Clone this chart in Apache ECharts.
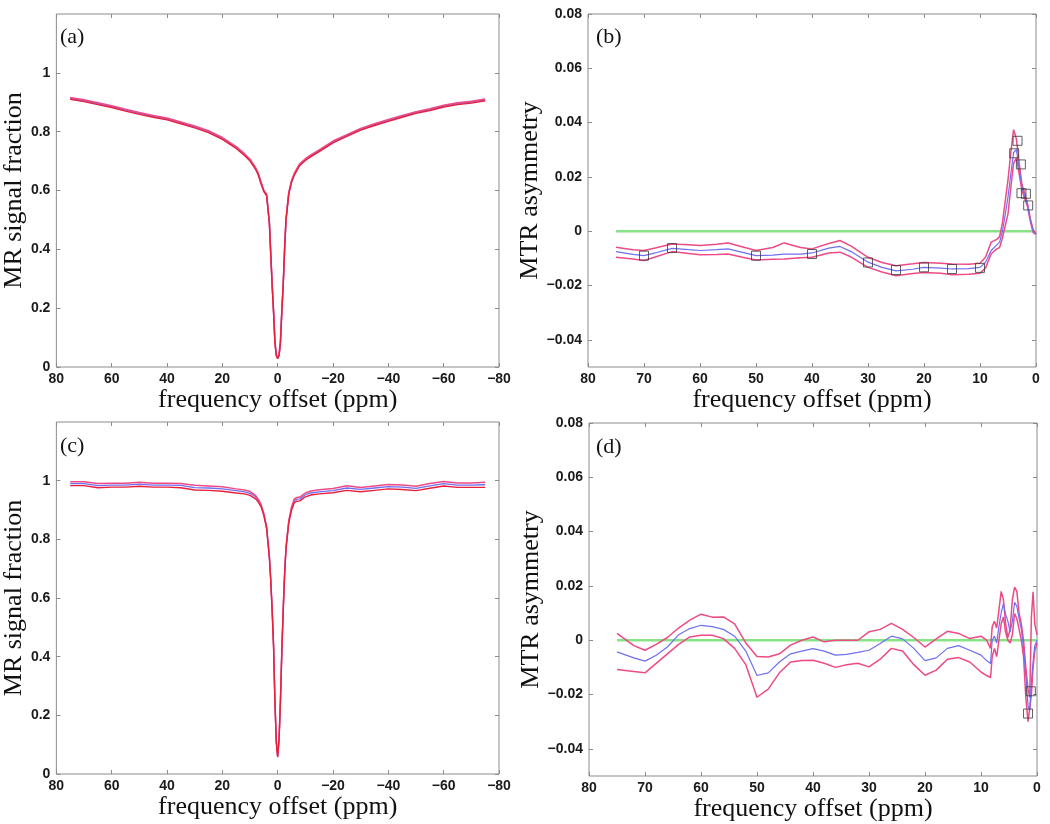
<!DOCTYPE html>
<html>
<head>
<meta charset="utf-8">
<script src="https://cdn.jsdelivr.net/npm/echarts@6/dist/echarts.min.js"></script>
<style>
html,body{margin:0;padding:0;background:#fff;}
#chart{width:1050px;height:824px;}
</style>
</head>
<body>
<div id="chart"></div>
<script>
// ---------- Data ----------
// Panels (a) and (c): Z-spectra, frequency offset (ppm)
var xsZ = [75,70,65,60,55,50,45,40,35,30,25,20,15,12,10,8,7,6,5,4,3,2.5,2,1.5,1,0.5,0,-0.5,-1,-1.5,-2,-2.5,-3,-4,-5,-6,-7,-8,-10,-12,-15,-20,-25,-30,-35,-40,-45,-50,-55,-60,-65,-70,-75];

var aUpper = [0.916,0.908,0.898,0.888,0.876,0.865,0.855,0.846,0.833,0.819,0.803,0.780,0.749,0.725,0.706,0.678,0.658,0.628,0.600,0.588,0.492,0.386,0.282,0.192,0.087,0.042,0.032,0.042,0.087,0.192,0.282,0.402,0.502,0.593,0.633,0.658,0.675,0.691,0.708,0.721,0.738,0.768,0.790,0.811,0.827,0.841,0.855,0.868,0.878,0.890,0.898,0.903,0.911];
var aMean  = [0.913,0.905,0.895,0.885,0.873,0.862,0.852,0.843,0.830,0.816,0.800,0.777,0.746,0.722,0.703,0.675,0.655,0.625,0.598,0.585,0.490,0.384,0.280,0.190,0.085,0.040,0.030,0.040,0.085,0.190,0.280,0.400,0.500,0.590,0.630,0.655,0.672,0.688,0.705,0.718,0.735,0.765,0.787,0.808,0.824,0.838,0.852,0.865,0.875,0.887,0.895,0.900,0.908];
var aLower = [0.910,0.902,0.892,0.882,0.870,0.859,0.849,0.840,0.827,0.813,0.797,0.774,0.743,0.719,0.700,0.672,0.652,0.622,0.596,0.582,0.488,0.382,0.278,0.188,0.083,0.038,0.028,0.038,0.083,0.188,0.278,0.398,0.498,0.587,0.627,0.652,0.669,0.685,0.702,0.715,0.732,0.762,0.784,0.805,0.821,0.835,0.849,0.862,0.872,0.884,0.892,0.897,0.905];

var cUpper = [0.996,0.996,0.990,0.991,0.991,0.995,0.991,0.991,0.990,0.984,0.982,0.979,0.972,0.968,0.963,0.950,0.936,0.918,0.888,0.842,0.742,0.662,0.562,0.442,0.252,0.112,0.062,0.122,0.252,0.422,0.562,0.682,0.773,0.864,0.910,0.938,0.943,0.944,0.958,0.965,0.969,0.973,0.983,0.977,0.982,0.987,0.985,0.981,0.990,0.997,0.992,0.992,0.995];
var cMean  = [0.990,0.990,0.983,0.985,0.985,0.988,0.985,0.985,0.984,0.976,0.975,0.972,0.966,0.962,0.957,0.945,0.932,0.915,0.885,0.840,0.740,0.660,0.560,0.440,0.250,0.110,0.060,0.120,0.250,0.420,0.560,0.680,0.770,0.860,0.905,0.932,0.937,0.938,0.952,0.958,0.962,0.966,0.975,0.970,0.975,0.980,0.978,0.974,0.982,0.990,0.985,0.985,0.986];
var cLower = [0.983,0.983,0.976,0.978,0.978,0.981,0.978,0.978,0.976,0.968,0.967,0.964,0.958,0.955,0.950,0.938,0.927,0.911,0.881,0.837,0.737,0.657,0.557,0.437,0.247,0.107,0.057,0.117,0.247,0.417,0.557,0.677,0.766,0.855,0.899,0.925,0.930,0.931,0.945,0.951,0.955,0.959,0.967,0.962,0.967,0.972,0.970,0.966,0.974,0.982,0.977,0.977,0.977];

// Panel (b): MTR asymmetry
var xsB = [75,72,70,68,65,62,60,57,55,52,50,47,45,42,40,37,35,33,30,27.5,25,22,20,17,15,12,10,9,8,7,6.5,6,5.5,5,4.5,4,3.5,3,2.5,2,1.5,1,0.5,0];
var bUpper = [-0.0059,-0.0068,-0.0071,-0.0062,-0.0047,-0.0050,-0.0053,-0.0048,-0.0043,-0.0060,-0.0071,-0.0060,-0.0043,-0.0060,-0.0065,-0.0045,-0.0034,-0.0055,-0.0096,-0.0115,-0.0127,-0.0120,-0.0115,-0.0118,-0.0121,-0.0122,-0.0118,-0.0095,-0.0040,-0.0030,-0.0020,0.0030,0.0110,0.0189,0.0290,0.0374,0.0340,0.0250,0.0170,0.0140,0.0100,0.0045,0.0005,-0.0008];
var bMean  = [-0.0075,-0.0085,-0.0090,-0.0080,-0.0063,-0.0068,-0.0071,-0.0068,-0.0065,-0.0080,-0.0090,-0.0088,-0.0084,-0.0084,-0.0080,-0.0062,-0.0056,-0.0075,-0.0114,-0.0133,-0.0146,-0.0140,-0.0133,-0.0136,-0.0139,-0.0138,-0.0133,-0.0114,-0.0071,-0.0050,-0.0040,0.0000,0.0060,0.0126,0.0210,0.0290,0.0300,0.0230,0.0160,0.0130,0.0095,0.0040,0.0000,-0.0010];
var bLower = [-0.0096,-0.0102,-0.0108,-0.0095,-0.0075,-0.0082,-0.0087,-0.0086,-0.0084,-0.0098,-0.0106,-0.0103,-0.0102,-0.0098,-0.0096,-0.0080,-0.0077,-0.0095,-0.0133,-0.0150,-0.0164,-0.0156,-0.0152,-0.0155,-0.0160,-0.0158,-0.0155,-0.0135,-0.0083,-0.0065,-0.0060,-0.0025,0.0020,0.0064,0.0160,0.0250,0.0270,0.0210,0.0150,0.0120,0.0090,0.0035,-0.0005,-0.0012];
var bSquaresX = [70,65,50,40,30,25,20,15,10,3.9,3.3,2.7,2.6,1.8,1.4];
var bSquaresY = [-0.0090,-0.0062,-0.0090,-0.0084,-0.0115,-0.0143,-0.0133,-0.0139,-0.0135,0.0287,0.0333,0.0246,0.0140,0.0138,0.0095];

// Panel (d): MTR asymmetry
var xsD = [75,72,70,68,66,64,62,60,58,56,54,52,50,48,46,44,42,40,38,36,34,32,30,28,26,24,22,20,18,16,14,12,10,9,8.3,8,7.6,7.2,6.8,6.4,6,5.6,5.2,4.8,4.4,4,3.6,3.2,2.8,2.4,2,1.6,1.3,1,0.7,0.4,0];
var dUpper = [0.0025,-0.0020,-0.0037,-0.0015,0.0010,0.0045,0.0074,0.0096,0.0085,0.0086,0.0060,-0.0010,-0.0060,-0.0062,-0.0050,-0.0018,0.0000,0.0012,-0.0006,0.0000,0.0000,0.0000,0.0031,0.0040,0.0062,0.0040,0.0010,-0.0025,0.0005,0.0033,0.0025,0.0006,0.0015,0.0000,-0.0030,0.0050,0.0070,0.0045,0.0110,0.0180,0.0150,0.0060,0.0010,0.0040,0.0150,0.0196,0.0180,0.0100,0.0060,0.0000,-0.0100,-0.0180,-0.0210,0.0086,0.0178,0.0060,0.0020];
var dMean  = [-0.0043,-0.0065,-0.0077,-0.0055,-0.0025,0.0020,0.0043,0.0055,0.0050,0.0040,0.0015,-0.0040,-0.0130,-0.0120,-0.0080,-0.0050,-0.0040,-0.0031,-0.0040,-0.0055,-0.0052,-0.0045,-0.0037,-0.0012,0.0015,0.0005,-0.0030,-0.0075,-0.0065,-0.0030,-0.0020,-0.0037,-0.0055,-0.0075,-0.0086,0.0000,0.0015,-0.0010,0.0050,0.0100,0.0135,0.0095,0.0070,0.0030,0.0070,0.0140,0.0125,0.0080,0.0040,-0.0030,-0.0130,-0.0240,-0.0260,-0.0150,-0.0080,-0.0020,0.0000];
var dLower = [-0.0108,-0.0115,-0.0120,-0.0085,-0.0050,-0.0015,0.0012,0.0018,0.0018,0.0006,-0.0030,-0.0090,-0.0210,-0.0180,-0.0120,-0.0080,-0.0075,-0.0074,-0.0085,-0.0100,-0.0090,-0.0085,-0.0098,-0.0070,-0.0030,-0.0040,-0.0090,-0.0129,-0.0110,-0.0070,-0.0064,-0.0080,-0.0117,-0.0130,-0.0138,-0.0060,-0.0030,-0.0060,0.0000,0.0060,0.0086,0.0030,0.0000,-0.0010,0.0020,0.0098,0.0080,0.0040,0.0000,-0.0060,-0.0210,-0.0300,-0.0307,-0.0200,-0.0100,-0.0040,-0.0010];
var dSquaresX = [1.6,1.1];
var dSquaresY = [-0.0270,-0.0188];

// Zero reference line (green) spans
var zeroLineX = [75,0];
var zeroLineY = [0,0];

// Tick labels
var zTicks = [0,0.2,0.4,0.6,0.8,1];
var mtrTicks = [-0.04,-0.02,0,0.02,0.04,0.06,0.08];
var panelLetters = ['(a)','(b)','(c)','(d)'];
var xTitle = 'frequency offset (ppm)';
var yTitleZ = 'MR signal fraction';
var yTitleM = 'MTR asymmetry';

// ---------- Build ----------
function pairs(xs, ys){ return xs.map(function(x,i){ return [x, ys[i]]; }); }
function fmtNum(v){
  var s = String(Math.round(v*1000)/1000);
  return s.replace('-', '\u2212');
}

var FRAME = '#8c8c8c';
var LBL = {color:'#1a1a1a', fontFamily:'Liberation Sans, Arial, sans-serif', fontSize:14, fontWeight:'bold'};
var NAME = {color:'#111', fontFamily:'Liberation Serif, Times New Roman, serif', fontSize:26};

var grids = [
  {left:53,  top:14,  width:446, height:353, show:true, borderColor:FRAME, borderWidth:1, backgroundColor:'#fff'},
  {left:588, top:14,  width:448, height:353, show:true, borderColor:FRAME, borderWidth:1, backgroundColor:'#fff'},
  {left:53,  top:422, width:446, height:352, show:true, borderColor:FRAME, borderWidth:1, backgroundColor:'#fff'},
  {left:589, top:423, width:448, height:353, show:true, borderColor:FRAME, borderWidth:1, backgroundColor:'#fff'}
];

var xAxes = [], yAxes = [];
function addX(gi, min, max, interval){
  var base = {type:'value', gridIndex:gi, min:min, max:max, interval:interval, inverse:true,
    axisLine:{show:false, onZero:false}, splitLine:{show:false},
    axisTick:{show:true, inside:true, length:4, lineStyle:{color:FRAME}}};
  xAxes.push(Object.assign({}, base, {position:'bottom',
    axisLabel:{show:true, margin:5, formatter:fmtNum, color:LBL.color, fontFamily:LBL.fontFamily, fontSize:LBL.fontSize, fontWeight:LBL.fontWeight},
    name:xTitle, nameLocation:'middle', nameGap:16,
    nameTextStyle:{color:NAME.color, fontFamily:NAME.fontFamily, fontSize:NAME.fontSize}}));
  xAxes.push(Object.assign({}, base, {position:'top', axisLabel:{show:false}}));
}
function addY(gi, min, max, ticks, title, gap){
  var base = {type:'value', gridIndex:gi, min:min, max:max,
    axisLine:{show:false, onZero:false}, splitLine:{show:false},
    axisTick:{show:true, inside:true, length:4, lineStyle:{color:FRAME}, customValues:ticks}};
  yAxes.push(Object.assign({}, base, {position:'left',
    axisLabel:{show:true, margin:6, customValues:ticks, formatter:fmtNum, color:LBL.color, fontFamily:LBL.fontFamily, fontSize:LBL.fontSize, fontWeight:LBL.fontWeight},
    name:title, nameLocation:'middle', nameGap:gap, nameRotate:90,
    nameTextStyle:{color:NAME.color, fontFamily:NAME.fontFamily, fontSize:NAME.fontSize}}));
  yAxes.push(Object.assign({}, base, {position:'right', axisLabel:{show:false, customValues:ticks}}));
}
addX(0, -80, 80, 20); addY(0, 0, 1.2, zTicks, yTitleZ, 28);
addX(1, 0, 80, 10);   addY(1, -0.05, 0.08, mtrTicks, yTitleM, 39);
addX(2, -80, 80, 20); addY(2, 0, 1.2, zTicks, yTitleZ, 28);
addX(3, 0, 80, 10);   addY(3, -0.05, 0.08, mtrTicks, yTitleM, 39);

var PINK = '#ee4a86', RED = '#e8203c', BLUE = '#6f6ff2', GREEN = '#86e486';

function lineS(axisIdx, data, color, width, z){
  return {type:'line', xAxisIndex:axisIdx*2, yAxisIndex:axisIdx*2, data:data,
    showSymbol:false, symbol:'none',
    lineStyle:{color:color, width:width}, z:z, silent:true, animation:false};
}
function squares(axisIdx, xs, ys){
  return {type:'scatter', xAxisIndex:axisIdx*2, yAxisIndex:axisIdx*2, data:pairs(xs, ys),
    symbol:'rect', symbolSize:9, itemStyle:{color:'rgba(0,0,0,0)', borderColor:'#3a3a3a', borderWidth:1},
    z:6, silent:true, animation:false};
}

var series = [
  // (a)
  lineS(0, pairs(xsZ, aMean), BLUE, 1.4, 2),
  lineS(0, pairs(xsZ, aUpper), PINK, 1.6, 3),
  lineS(0, pairs(xsZ, aLower), RED, 1.4, 3),
  // (b)
  lineS(1, pairs(zeroLineX, zeroLineY), GREEN, 2.5, 2),
  lineS(1, pairs(xsB, bUpper), PINK, 1.5, 3),
  lineS(1, pairs(xsB, bLower), PINK, 1.5, 3),
  lineS(1, pairs(xsB, bMean), BLUE, 1.2, 4),
  squares(1, bSquaresX, bSquaresY),
  // (c)
  lineS(2, pairs(xsZ, cMean), BLUE, 1.3, 2),
  lineS(2, pairs(xsZ, cUpper), PINK, 1.5, 3),
  lineS(2, pairs(xsZ, cLower), RED, 1.4, 3),
  // (d)
  lineS(3, pairs(zeroLineX, zeroLineY), GREEN, 2.5, 2),
  lineS(3, pairs(xsD, dUpper), PINK, 1.5, 3),
  lineS(3, pairs(xsD, dLower), PINK, 1.5, 3),
  lineS(3, pairs(xsD, dMean), BLUE, 1.2, 4),
  squares(3, dSquaresX, dSquaresY)
];

var letterPos = [[60,26],[596,26],[60,435],[596,436]];
var titles = panelLetters.map(function(t,i){
  return {text:t, left:letterPos[i][0], top:letterPos[i][1], padding:0,
    textStyle:{fontFamily:'Liberation Serif, Times New Roman, serif', fontSize:22, fontWeight:'normal', color:'#111'}};
});

var chart = echarts.init(document.getElementById('chart'), null, {renderer:'canvas'});
chart.setOption({
  backgroundColor:'#fff',
  animation:false,
  title:titles,
  grid:grids,
  xAxis:xAxes,
  yAxis:yAxes,
  series:series
});
</script>
</body>
</html>
